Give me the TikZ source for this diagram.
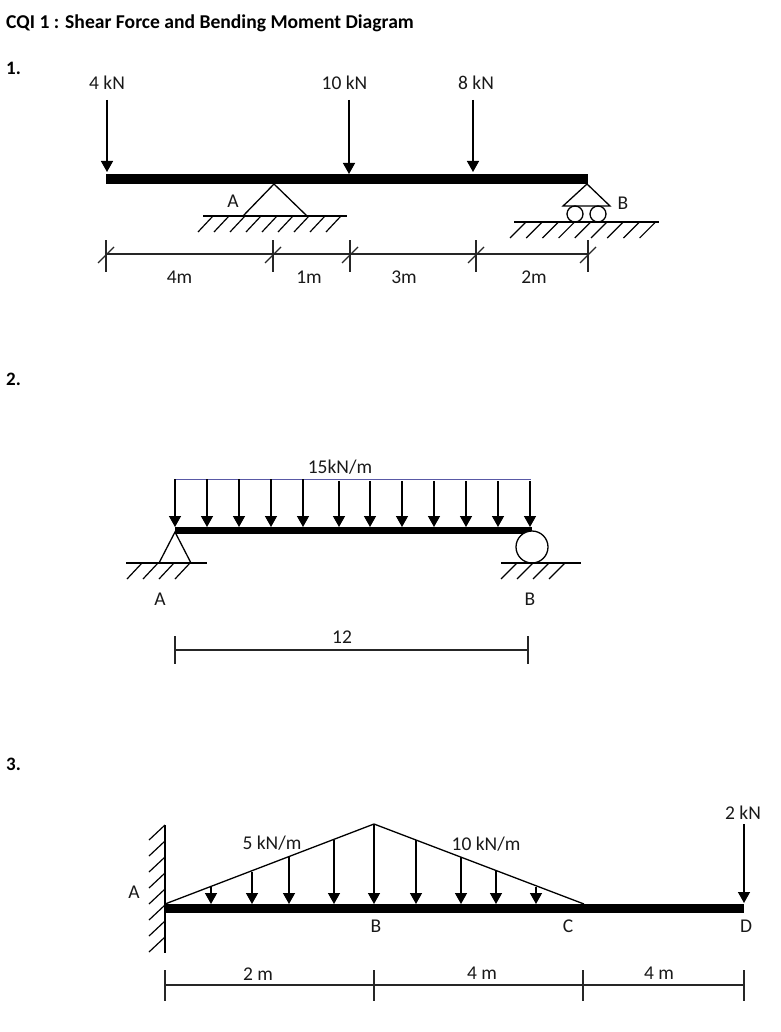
\documentclass[tikz,border=0pt]{standalone}
\usepackage{fontspec}
\setmainfont{Carlito}
\usetikzlibrary{arrows.meta}
\tikzset{
  beam/.style={line width=#1,black},
  load/.style={-{Triangle[length=11pt,width=12pt]},line width=1.4pt,black},
  thin line/.style={line width=1.3pt,black},
  hatch/.style={line width=1.2pt,black},
  dim/.style={line width=1.2pt,black!85},
  lbl/.style={font=\fontsize{19.5}{22}\selectfont,inner sep=0pt,text=black!90},
  head/.style={font=\fontsize{19}{22}\selectfont\bfseries,inner sep=0pt,anchor=west}
}
\begin{document}
\begin{tikzpicture}[x=1pt,y=-1pt]
\useasboundingbox (0,0) rectangle (780,1032);

% Headings
\node[head,font=\fontsize{19.6}{24}\selectfont\bfseries] (title) at (6,23) {CQI 1 : Shear Force and Bending Moment Diagram};
\node[head] (one) at (6,68) {1.};
\node[head] (two) at (6,379) {2.};
\node[head] (three) at (6,764) {3.};

% Beam 1
\coordinate (p1) at (106,179);
\coordinate (q1) at (588,179);
\draw[beam=10.5pt] (p1) -- (q1);

% Loads 1
\foreach \x/\y/\n in {107/172/f,349/174/g,473/172/h} {
  \coordinate (\n t) at (\x,100);
  \coordinate (\n b) at (\x,\y);
  \draw[load] (\n t) -- (\n b);
}
\node[lbl] (fa) at (107,83) {4 kN};
\node[lbl] (fb) at (344.5,83) {10 kN};
\node[lbl] (fc) at (476,83) {8 kN};

% Support A
\draw[thin line] (243,216) -- (274,184) -- (307,216);
\draw[thin line] (203,216) -- (347,216);
\foreach \i in {0,...,8}
  \draw[hatch] ({213+16*\i},216) -- ({198+16*\i},232);
\node[lbl] (sa) at (233,201) {A};

% Support B
\draw[thin line] (587,184) -- (563,206) -- (610,206) -- cycle;
\draw[thin line] (575,214) circle (8);
\draw[thin line] (598,214) circle (8);
\draw[thin line] (514,222) -- (659,222);
\foreach \i in {0,...,8}
  \draw[hatch] ({526+16.2*\i},222) -- ({510+16.2*\i},238);
\node[lbl] (sb) at (623,203) {B};

% Dimensions 1
\draw[dim] (106,254) -- (588,254);
\foreach \x in {106,273,350,476,588} {
  \draw[dim] (\x,240) -- (\x,272);
  \draw[dim] ({\x-8},263) -- ({\x+8},247);
}
\node[lbl] (da) at (179.5,277) {4m};
\node[lbl] (db) at (309,277) {1m};
\node[lbl] (dc) at (404,277) {3m};
\node[lbl] (dd) at (534,277) {2m};

% Beam 2
\coordinate (p2) at (175,530.5);
\coordinate (q2) at (532,530.5);
\draw[beam=7pt] (p2) -- (q2);

% Distributed load 2
\draw[line width=1pt,color=blue!30!gray] (174,479) -- (531,479);
\foreach \x in {175,207,239,271,303} {
  \draw[load] (\x,479) -- (\x,527);
}
\foreach \x in {339,370,402,434,466,498,530} {
  \draw[load] (\x,481) -- (\x,527);
}
\node[lbl] (ql) at (340,467) {15kN/m};

% Supports 2
\draw[thin line] (159,563) -- (175,532) -- (191,563);
\draw[thin line] (126,563) -- (207,563);
\foreach \i in {0,...,3}
  \draw[hatch] ({142+16*\i},563) -- ({127+16*\i},579);
\node[lbl] (sc) at (160,599) {A};
\draw[thin line,fill=white] (532,547) circle (16);
\draw[thin line] (501,563) -- (581,563);
\foreach \i in {0,...,3}
  \draw[hatch] ({517+16*\i},563) -- ({501+16*\i},579);
\node[lbl] (sd) at (530,599) {B};

% Dimensions 2
\draw[dim] (175,650) -- (528,650);
\draw[dim] (175,636) -- (175,664);
\draw[dim] (528,636) -- (528,664);
\node[lbl] (de) at (342,637) {12};

% Beam 3
\coordinate (p3) at (165,908.5);
\coordinate (q3) at (744,908.5);
\draw[beam=9pt] (p3) -- (q3);

% Wall
\draw[thin line] (165,825) -- (165,953);
\foreach \i in {0,...,7}
  \draw[hatch] (165,{825+16*\i}) -- (149,{840+16*\i});
\node[lbl] (wa) at (134,892) {A};

% Triangular load 3
\coordinate (apex) at (374,824);
\draw[thin line] (165,904) -- (apex) -- (584,904);
\foreach \x/\y in {211/887,252/872,289/857,334/840,374/824,416/840,461/857,496/871,536/887} {
  \draw[load] (\x,\y) -- (\x,904);
}
\node[lbl] (qa) at (272,843) {5 kN/m};
\node[lbl] (qb) at (486,844) {10 kN/m};

% Point load 3
\draw[load] (744,824) -- (744,903);
\node[lbl] (fd) at (743,813) {2 kN};

% Labels 3
\node[lbl] (nb) at (376,926) {B};
\node[lbl] (nc) at (568,926) {C};
\node[lbl] (nd) at (746,926) {D};

% Dimensions 3
\draw[dim] (165,985) -- (744,985);
\foreach \x in {165,374,583,744} {
  \draw[dim] (\x,970) -- (\x,1001);
}
\node[lbl] (dg) at (258,974) {2 m};
\node[lbl] (dh) at (482,973) {4 m};
\node[lbl] (di) at (659,973) {4 m};
\end{tikzpicture}
\end{document}
